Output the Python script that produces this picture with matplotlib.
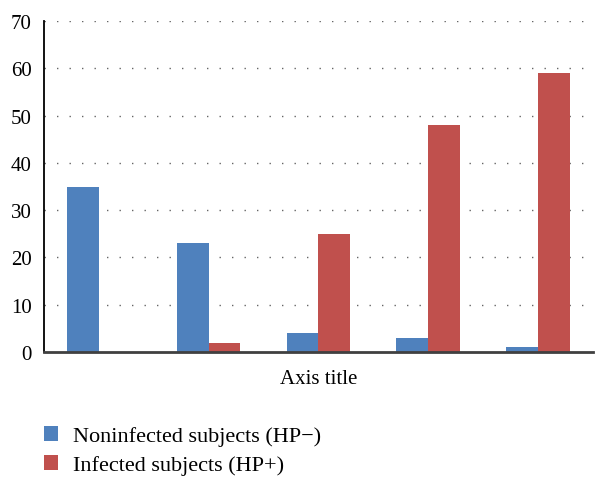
import matplotlib.pyplot as plt
import numpy as np

# values
groups = ["1", "2", "3", "4", "5"]
noninfected = [35, 23, 4, 3, 1]
infected = [0, 2, 25, 48, 59]
series_labels = ["Noninfected subjects (HP\u2212)", "Infected subjects (HP+)"]
y_ticks = [0, 10, 20, 30, 40, 50, 60, 70]

BLUE = "#4F81BD"
RED = "#C0504D"

plt.rcParams["font.family"] = ["Liberation Serif", "DejaVu Serif"]

fig = plt.figure(figsize=(6.08, 4.89), dpi=100)
fig.patch.set_facecolor("white")
ax = fig.add_axes([0.0724, 0.278, 0.9026, 0.677])

x = np.arange(len(groups))
width = 0.29
b1 = ax.bar(x - width / 2, noninfected, width, color=BLUE, label=series_labels[0], zorder=3)
b2 = ax.bar(x + width / 2, infected, width, color=RED, label=series_labels[1], zorder=3)

ax.set_xlim(-0.5, len(groups) - 0.5)
ax.set_ylim(0, 70)
ax.set_yticks(y_ticks)
ax.set_xticks([])
ax.tick_params(axis="y", length=0, pad=9, labelsize=15)

for yv in y_ticks[1:]:
    ax.axhline(yv, color="#666666", linewidth=1.0, linestyle=(0, (1, 8)), zorder=1)

ax.spines["top"].set_visible(False)
ax.spines["right"].set_visible(False)
ax.spines["left"].set_linewidth(1.3)
ax.spines["left"].set_color("black")
ax.spines["bottom"].set_linewidth(2.0)
ax.spines["bottom"].set_color("#404040")
ax.spines["bottom"].set_zorder(4)

ax.set_xlabel("Axis title", fontsize=15, labelpad=12)

fig.legend(
    handles=[b1, b2],
    labels=series_labels,
    loc="upper left",
    bbox_to_anchor=(0.072, 0.127),
    frameon=False,
    fontsize=16,
    handlelength=0.65,
    handleheight=0.65,
    handletextpad=0.65,
    labelspacing=0.4,
    borderpad=0,
    borderaxespad=0,
)

fig.savefig("out.png", dpi=100, facecolor="white")
